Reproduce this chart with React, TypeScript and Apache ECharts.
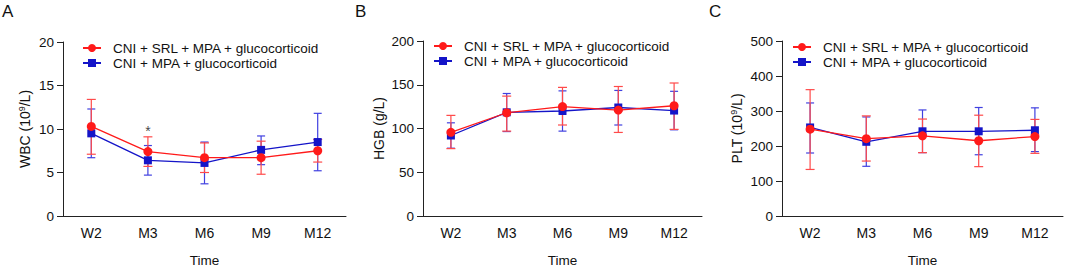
import React, { useEffect, useRef } from "react";
import * as echarts from "echarts";

const categories = ["W2", "M3", "M6", "M9", "M12"];
const seriesNames = ["CNI + SRL + MPA + glucocorticoid", "CNI + MPA + glucocorticoid"];

// Panel A: WBC
const wbcSrlMean = [10.3, 7.4, 6.7, 6.7, 7.5];
const wbcSrlLow = [7.1, 5.7, 5.0, 4.8, 6.2];
const wbcSrlHigh = [13.4, 9.1, 8.4, 8.6, 8.8];
const wbcMpaMean = [9.5, 6.4, 6.1, 7.6, 8.5];
const wbcMpaLow = [6.7, 4.7, 3.7, 5.9, 5.2];
const wbcMpaHigh = [12.3, 8.1, 8.5, 9.2, 11.8];

// Panel B: HGB
const hgbSrlMean = [95.6, 118, 125, 121, 126];
const hgbSrlLow = [77, 97, 104, 95.5, 99];
const hgbSrlHigh = [115, 137, 147, 148, 152];
const hgbMpaMean = [92, 118.5, 120, 124, 120.5];
const hgbMpaLow = [77.5, 96.5, 97, 104, 98.5];
const hgbMpaHigh = [106.5, 140, 143, 143.5, 142.5];

// Panel C: PLT
const pltSrlMean = [248, 221, 229, 215, 227];
const pltSrlLow = [133, 157, 181, 141, 179];
const pltSrlHigh = [361, 286, 277, 288, 276];
const pltMpaMean = [253, 212, 242, 242, 245];
const pltMpaLow = [180, 142, 181, 175, 184];
const pltMpaHigh = [323, 283, 303, 310, 309];

// significance marks (panel A)
const sigCategory = "M3";
const sigValue = 10.1;
const sigText = "*";

const yMax = [20, 200, 500];
const yInterval = [5, 50, 100];
const yNames = ["{a|WBC (10}{s|9}{a|/L)}", "{a|HGB (g/L)}", "{a|PLT (10}{s|9}{a|/L)}"];
const panelLetters = ["A", "B", "C"];
const xName = "Time";

const FONT = "'Liberation Sans', Arial, Helvetica, sans-serif";
const RED = "#ff1a1a";
const RED_ERR = "#ff4a4a";
const BLUE = "#1414c8";
const BLUE_ERR = "#4040e0";
const TXT = "#111";

const grids = [
  { left: 63, top: 42, width: 283, height: 182 },
  { left: 423, top: 41, width: 279, height: 182 },
  { left: 782, top: 41, width: 281, height: 182 },
];
const legendPos = [
  { left: 82, top: 41 },
  { left: 433, top: 39 },
  { left: 792, top: 40 },
];
const letterPos = [2, 355, 709];
const yNameGap = [30, 37, 37];

function errorSeries(gi: number, low: number[], high: number[], color: string, capHalf: number) {
  return {
    type: "custom",
    xAxisIndex: gi,
    yAxisIndex: gi,
    z: 1,
    silent: true,
    data: categories.map((c, i) => [i, low[i], high[i]]),
    renderItem: (params: any, api: any) => {
      const x = api.value(0);
      const lo = api.coord([x, api.value(1)]);
      const hi = api.coord([x, api.value(2)]);
      const st = { stroke: color, lineWidth: 1.2 };
      return {
        type: "group",
        children: [
          { type: "line", shape: { x1: lo[0], y1: lo[1], x2: hi[0], y2: hi[1] }, style: st },
          { type: "line", shape: { x1: lo[0] - capHalf, y1: lo[1], x2: lo[0] + capHalf, y2: lo[1] }, style: st },
          { type: "line", shape: { x1: hi[0] - capHalf, y1: hi[1], x2: hi[0] + capHalf, y2: hi[1] }, style: st },
        ],
      };
    },
  };
}

function lineSeries(gi: number, name: string, data: number[], color: string, symbol: string, size: number, z: number) {
  return {
    type: "line",
    name,
    xAxisIndex: gi,
    yAxisIndex: gi,
    data,
    symbol,
    symbolSize: size,
    z,
    lineStyle: { color, width: 1.3 },
    itemStyle: { color },
  };
}

export default function App() {
  const ref = useRef<HTMLDivElement>(null);
  useEffect(() => {
    if (!ref.current) return;
    const chart = echarts.init(ref.current, null, { renderer: "svg" });
    const panels = [
      [wbcSrlMean, wbcSrlLow, wbcSrlHigh, wbcMpaMean, wbcMpaLow, wbcMpaHigh],
      [hgbSrlMean, hgbSrlLow, hgbSrlHigh, hgbMpaMean, hgbMpaLow, hgbMpaHigh],
      [pltSrlMean, pltSrlLow, pltSrlHigh, pltMpaMean, pltMpaLow, pltMpaHigh],
    ];
    const series: any[] = [];
    panels.forEach((p, gi) => {
      series.push(errorSeries(gi, p[4], p[5], BLUE_ERR, 4));
      series.push(errorSeries(gi, p[1], p[2], RED_ERR, 4.5));
      series.push(lineSeries(gi, seriesNames[1], p[3], BLUE, "rect", 8, 3));
      series.push(lineSeries(gi, seriesNames[0], p[0], RED, "circle", 9, 4));
    });
    series.push({
      type: "scatter",
      xAxisIndex: 0,
      yAxisIndex: 0,
      symbolSize: 0,
      silent: true,
      data: [[sigCategory, sigValue]],
      label: {
        show: true,
        position: "inside",
        formatter: sigText,
        fontSize: 14,
        color: TXT,
        fontFamily: FONT,
        offset: [0, 3],
      },
    });

    const option: any = {
      animation: false,
      textStyle: { fontFamily: FONT },
      title: panelLetters.map((t, i) => ({
        text: t,
        left: letterPos[i],
        top: 3,
        padding: 0,
        textStyle: { fontSize: 17, fontWeight: "normal", color: TXT, fontFamily: FONT },
      })),
      legend: legendPos.map((lp) => ({
        left: lp.left,
        top: lp.top,
        orient: "vertical",
        data: [seriesNames[0], seriesNames[1]],
        itemWidth: 18,
        itemHeight: 10,
        itemGap: 1,
        padding: 0,
        selectedMode: false,
        textStyle: { fontSize: 13.5, color: TXT, fontFamily: FONT, lineHeight: 14, padding: [0, 0, 0, 7] },
      })),
      grid: grids.map((g) => ({ ...g, containLabel: false })),
      xAxis: grids.map((g, i) => ({
        type: "category",
        gridIndex: i,
        data: categories,
        boundaryGap: true,
        name: xName,
        nameLocation: "middle",
        nameGap: 37,
        nameTextStyle: { fontSize: 13.5, color: TXT, fontFamily: FONT },
        axisLine: { lineStyle: { color: "#222", width: 1 } },
        axisTick: { alignWithLabel: true, length: 6, lineStyle: { color: "#222" } },
        axisLabel: { fontSize: 14, color: TXT, margin: 10, fontFamily: FONT },
        splitLine: { show: false },
      })),
      yAxis: grids.map((g, i) => ({
        type: "value",
        gridIndex: i,
        min: 0,
        max: yMax[i],
        interval: yInterval[i],
        name: yNames[i],
        nameLocation: "middle",
        nameRotate: 90,
        nameGap: yNameGap[i],
        nameTextStyle: {
          fontSize: 14,
          color: TXT,
          fontFamily: FONT,
          rich: {
            a: { fontSize: 14, color: TXT, fontFamily: FONT },
            s: { fontSize: 9, color: TXT, fontFamily: FONT, verticalAlign: "top", padding: [0, 0, 7, 0] },
          },
        },
        axisLine: { show: true, lineStyle: { color: "#222", width: 1 } },
        axisTick: { show: true, length: 6, lineStyle: { color: "#222" } },
        axisLabel: { fontSize: 13.5, color: TXT, margin: 9, fontFamily: FONT },
        splitLine: { show: false },
      })),
      series,
    };
    chart.setOption(option);
    return () => chart.dispose();
  }, []);
  return (
    <div
      ref={ref}
      style={{ position: "absolute", left: 0, top: 0, width: 1065, height: 272, background: "#fff" }}
    />
  );
}
